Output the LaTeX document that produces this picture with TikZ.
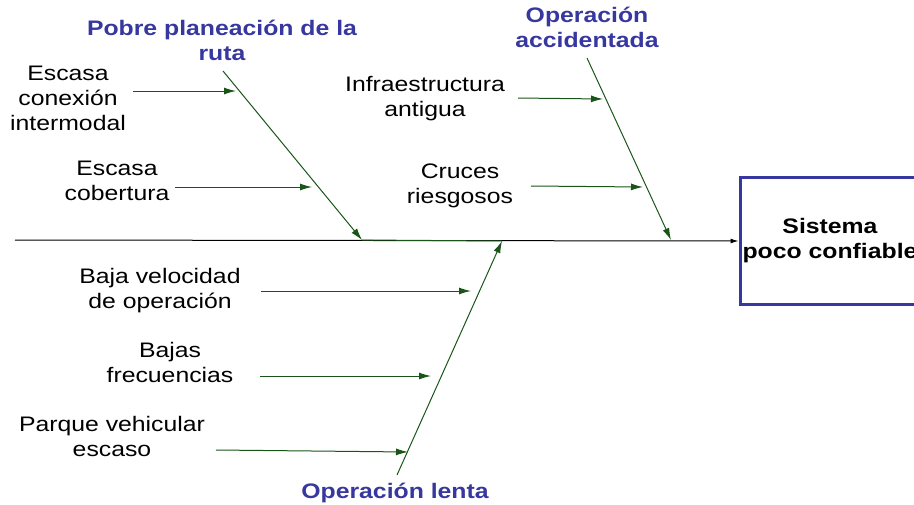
\documentclass[tikz,border=0pt]{standalone}
\usepackage{fontspec}
\setmainfont{Liberation Sans}[FakeStretch=1.18]
\usetikzlibrary{arrows.meta}
\definecolor{bonegreen}{RGB}{25,85,25}
\definecolor{labelblue}{RGB}{55,55,160}

\begin{document}
\begin{tikzpicture}[x=1pt,y=-1pt,
  cause/.style={align=center,inner sep=0pt,font=\fontsize{21}{25}\selectfont},
  head/.style={align=center,inner sep=0pt,text=labelblue,font=\fontsize{21}{25}\selectfont\bfseries},
  sysbox/.style={draw=labelblue,line width=3pt,align=center,inner sep=0pt,
    minimum width=180pt,minimum height=127pt,font=\fontsize{21}{25}\selectfont\bfseries},
  bone/.style={bonegreen,line width=1pt,-{Latex[length=12pt,width=7pt]}}]
  \clip (0,0) rectangle (914,504);
  % effect
  \node[sysbox] (sys) at (830,241) {Sistema\\poco confiable};
  % main bones
  \node[head] (h1) at (222,40) {Pobre planeación de la\\ruta};
  \node[head] (h2) at (587,27) {Operación\\accidentada};
  \node[head] (h3) at (395,493) {Operación lenta};
  \coordinate (tail) at (15,240);
  \coordinate (b1a) at (223,71);  \coordinate (b1b) at (362,240);
  \coordinate (b2a) at (587,58);  \coordinate (b2b) at (671,240);
  \coordinate (b3a) at (397,475); \coordinate (b3b) at (502,241);
  \draw[line width=1pt,-{Latex[length=8pt,width=5pt]}] (tail) -- (sys.west);
  \draw[bonegreen,line width=1pt] (b1b) -- (b3b);
  \draw[bone] (b1a) -- (b1b);
  \draw[bone] (b2a) -- (b2b);
  \draw[bone] (b3a) -- (b3b);
  % causes
  \node[cause] (c1) at (68,98) {Escasa\\conexión\\intermodal};
  \node[cause] (c2) at (117,181) {Escasa\\cobertura};
  \node[cause] (c3) at (425,99) {Infraestructura\\antigua};
  \node[cause] (c4) at (460,186) {Cruces\\riesgosos};
  \node[cause] (c5) at (160,291) {Baja velocidad\\de operación};
  \node[cause] (c6) at (170,362) {Bajas\\frecuencias};
  \node[cause] (c7) at (112,436) {Parque vehicular\\escaso};
  \coordinate (t1) at (133,91);  \coordinate (p1) at (236,91);
  \coordinate (t2) at (175,187); \coordinate (p2) at (312,187);
  \coordinate (t3) at (518,98);  \coordinate (p3) at (603,99);
  \coordinate (t4) at (531,186); \coordinate (p4) at (643,187);
  \coordinate (t5) at (261,291); \coordinate (p5) at (471,291);
  \coordinate (t6) at (260,376); \coordinate (p6) at (431,376);
  \coordinate (t7) at (216,450); \coordinate (p7) at (408,452);
  \foreach \n in {1,...,7}
    \draw[bone] (t\n) -- (p\n);
\end{tikzpicture}
\end{document}
